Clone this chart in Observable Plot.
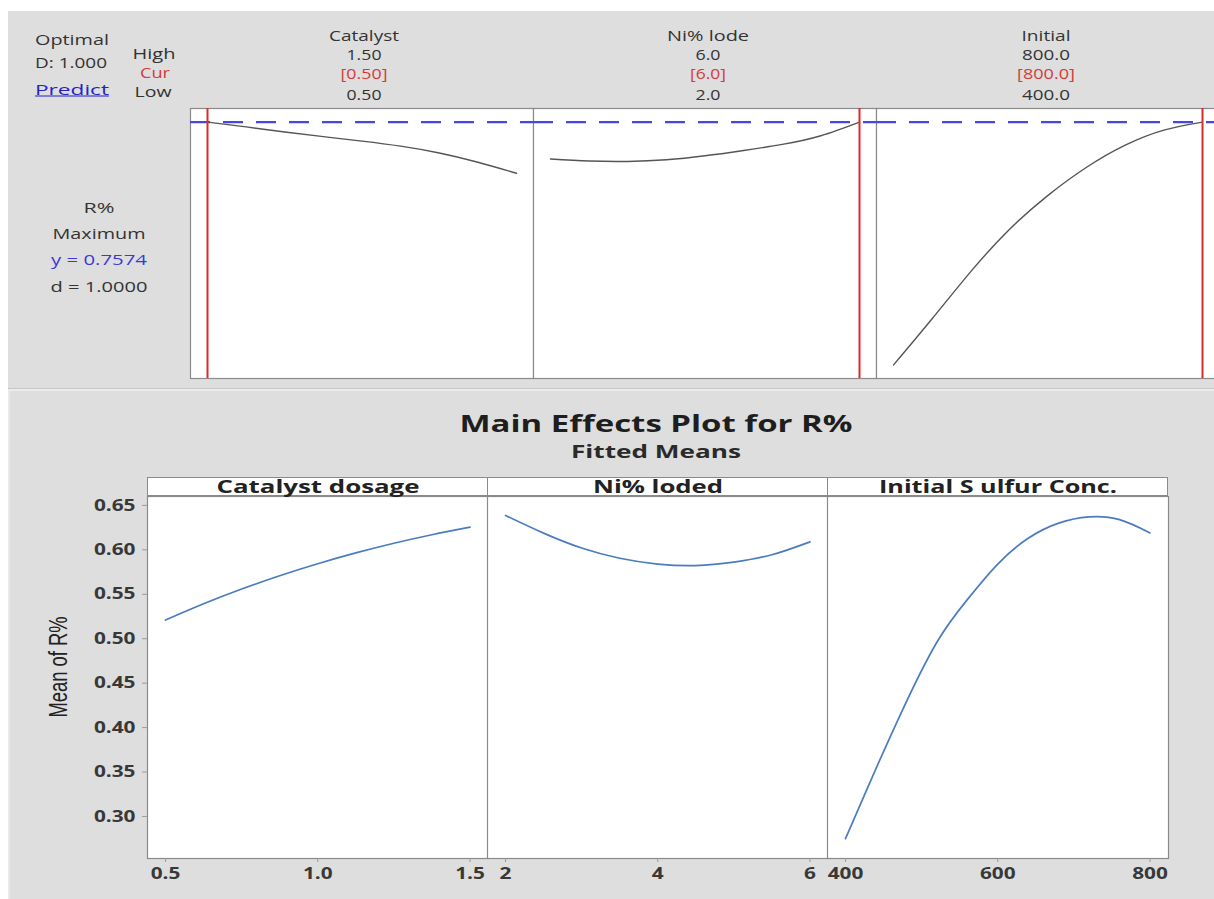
<!DOCTYPE html>
<html>
<head>
<meta charset="utf-8">
<script src="https://cdn.jsdelivr.net/npm/d3@7"></script>
<script src="https://cdn.jsdelivr.net/npm/@observablehq/plot@0.6"></script>
<style>
  html, body { margin: 0; padding: 0; background: #ffffff; }
  #root { position: relative; width: 1214px; height: 899px; overflow: hidden; background: #ffffff; font-family: "Open Sans", sans-serif; color: #333; }
  .abs { position: absolute; }
</style>
</head>
<body>
<div id="root"></div>
<script>
// ---------------- DATA ----------------
// Optimizer (top) header
const topFactors = ["Catalyst", "Ni% lode", "Initial"];
const topHigh = ["1.50", "6.0", "800.0"];
const topCur = ["[0.50]", "[6.0]", "[800.0]"];
const topLow = ["0.50", "2.0", "400.0"];
const curSettings = [0.5, 6, 800];
const lowHigh = [[0.5, 1.5], [2, 6], [400, 800]];
const optimalY = 0.7574;
const leftHeader = ["Optimal", "D: 1.000", "Predict"];
const levelNames = ["High", "Cur", "Low"];
const responseInfo = ["R%", "Maximum", "y = 0.7574", "d = 1.0000"];

// Optimizer response curves (top)
const catTopX = [0.5, 0.625, 0.75, 0.875, 1.0, 1.125, 1.25, 1.375, 1.5];
const catTopY = [0.7574, 0.7502, 0.7426, 0.7356, 0.7289, 0.7214, 0.7112, 0.6974, 0.6809];
const niTopX = [2, 2.5, 3, 3.5, 4, 4.5, 5, 5.5, 6];
const niTopY = [0.7022, 0.6992, 0.6986, 0.7010, 0.7070, 0.7150, 0.7240, 0.7370, 0.7574];
const initTopX = [400, 450, 500, 550, 600, 650, 700, 750, 800];
const initTopY = [0.3944, 0.4634, 0.5339, 0.5969, 0.6479, 0.6899, 0.7229, 0.7454, 0.7574];

// Main effects plot (bottom)
const mainTitle = "Main Effects Plot for R%";
const mainSubtitle = "Fitted Means";
const yLabel = "Mean of R%";
const panelNames = ["Catalyst dosage", "Ni% loded", "Initial S ulfur Conc."];
const catX = [0.5, 0.625, 0.75, 0.875, 1.0, 1.125, 1.25, 1.375, 1.5];
const catY = [0.521, 0.5393, 0.5559, 0.5709, 0.5844, 0.5965, 0.6074, 0.6170, 0.6255];
const niX = [2, 2.5, 3, 3.5, 4, 4.5, 5, 5.5, 6];
const niY = [0.6387, 0.6188, 0.602, 0.5905, 0.584, 0.5823, 0.5862, 0.5945, 0.609];
const initX = [400, 435, 475, 520, 560, 600, 640, 680, 720, 760, 800];
const initY = [0.275, 0.344, 0.420, 0.496, 0.544, 0.584, 0.613, 0.630, 0.637, 0.634, 0.619];
const yTicks = [0.30, 0.35, 0.40, 0.45, 0.50, 0.55, 0.60, 0.65];
const xTicks = [[0.5, 1.0, 1.5], [2, 4, 6], [400, 600, 800]];
const xTickFormats = [d3.format(".1f"), d3.format("d"), d3.format("d")];

// ---------------- LAYOUT ----------------
const root = document.getElementById("root");

function box(left, top, width, height, css) {
  const d = document.createElement("div");
  d.className = "abs";
  d.style.cssText = `left:${left}px;top:${top}px;width:${width}px;height:${height}px;` + (css || "");
  root.appendChild(d);
  return d;
}

// text centred at (cx, cy), stretched horizontally to a target width
function addText(txt, cx, cy, targetW, css, rotate) {
  const el = document.createElement("div");
  el.className = "abs";
  el.textContent = txt;
  el.style.cssText = `left:${cx}px;top:${cy}px;white-space:nowrap;line-height:1;` + (css || "");
  root.appendChild(el);
  const natural = el.getBoundingClientRect().width;
  const s = targetW ? targetW / natural : 1;
  el.style.transform = `translate(-50%,-50%)${rotate ? " rotate(" + rotate + "deg)" : ""} scaleX(${s})`;
  return el;
}

function place(svg, left, top, width) {
  const d = document.createElement("div");
  d.className = "abs";
  d.style.cssText = `left:${left}px;top:${top}px;width:${width}px;`;
  d.appendChild(svg);
  root.appendChild(d);
  return svg;
}

function stretchTicks(svg, f) {
  svg.querySelectorAll('g[aria-label$="tick label"] text').forEach(t => {
    const w = t.getComputedTextLength();
    t.setAttribute("textLength", (w * f).toFixed(2));
    t.setAttribute("lengthAdjust", "spacingAndGlyphs");
  });
}

// backgrounds
box(8, 11, 1206, 377, "background:#dedede;border-bottom:1px solid #c6c6c6;");
box(8, 389, 1206, 510, "background:#dedede;border-top:2px solid #ececec;border-left:2px solid #e9e9e9;box-sizing:border-box;");

// ---------------- TOP: optimizer ----------------
const topCurves = [[catTopX, catTopY], [niTopX, niTopY], [initTopX, initTopY]];
const topLefts = [190, 533, 876];
const topW = 343, topH = 270;
topCurves.forEach(([xs, ys], i) => {
  const data = xs.map((x, j) => ({x, y: ys[j]}));
  const svg = Plot.plot({
    width: topW, height: topH,
    marginTop: 0, marginBottom: 0, marginLeft: 0, marginRight: 0,
    x: {domain: lowHigh[i], range: [17, 326], axis: null},
    y: {domain: [0.3742, 0.7777], axis: null},
    style: {background: "transparent", maxWidth: "none", overflow: "visible"},
    marks: [
      Plot.frame({fill: "white", stroke: "#8a8a8a", strokeWidth: 1.2}),
      Plot.ruleY([optimalY], {stroke: "#4646e0", strokeWidth: 2.4, strokeDasharray: "20,13"}),
      Plot.line(data, {x: "x", y: "y", stroke: "#555555", strokeWidth: 1.4, curve: "natural"}),
      Plot.ruleX([curSettings[i]], {stroke: "#e02a2a", strokeWidth: 2})
    ]
  });
  place(svg, topLefts[i], 108, topW);
});

// top header text
const hdrCss = "font-size:15px;color:#333;";
addText(leftHeader[0], 72, 39, 74, hdrCss);
addText(leftHeader[1], 71, 62, 72, hdrCss);
addText(leftHeader[2], 72, 89, 74, hdrCss + "color:#2323c8;text-decoration:underline;");
addText(levelNames[0], 154, 53, 43, hdrCss);
addText(levelNames[1], 155, 72, 30, hdrCss + "color:#d83a3a;");
addText(levelNames[2], 153, 91, 37, hdrCss);

const colCx = [364, 708, 1046];
const factorW = [70, 82, 49];
const highW = [35, 25, 48];
const curW = [47, 36, 58];
topFactors.forEach((f, i) => {
  addText(f, colCx[i], 35, factorW[i], hdrCss);
  addText(topHigh[i], colCx[i], 54, highW[i], hdrCss);
  addText(topCur[i], colCx[i], 73, curW[i], hdrCss + "color:#d83a3a;");
  addText(topLow[i], colCx[i], 94, highW[i], hdrCss);
});

const respY = [207, 233, 259, 286];
const respW = [31, 93, 96, 97];
responseInfo.forEach((t, i) => {
  addText(t, 99, respY[i], respW[i], hdrCss + (i === 2 ? "color:#3a3ad8;" : ""));
});

// ---------------- BOTTOM: main effects ----------------
addText(mainTitle, 656, 423, 393, "font-size:24px;font-weight:700;color:#1e1e1e;");
addText(mainSubtitle, 656, 451, 170, "font-size:17px;font-weight:700;color:#2a2a2a;");
addText(yLabel, 58, 667, 101, "font-family:'Liberation Sans Narrow','Liberation Sans',sans-serif;font-size:26px;color:#222;", -90);

const bottomCurves = [[catX, catY], [niX, niY], [initX, initY]];
const panelLefts = [147, 487, 827];
const panelW = 341;
const stripW = [203, 130, 238];
const plotTop = 496, plotH = 362, marginB = 41;

bottomCurves.forEach(([xs, ys], i) => {
  const data = xs.map((x, j) => ({x, y: ys[j]}));
  const ml = i === 0 ? 147 : 0;
  const left = i === 0 ? 0 : panelLefts[i];
  const svg = Plot.plot({
    width: ml + panelW, height: plotH + marginB,
    marginTop: 0, marginBottom: marginB, marginLeft: ml, marginRight: 0,
    x: {domain: [xTicks[i][0], xTicks[i][2]], range: [ml + 18, ml + 322.5]},
    y: {domain: [0.2527, 0.660], axis: i === 0 ? undefined : null},
    style: {background: "transparent", maxWidth: "none", overflow: "visible",
            fontFamily: "'Open Sans', sans-serif", fontWeight: 700, fontSize: "16px", color: "#383838"},
    marks: [
      Plot.frame({fill: "white", stroke: "#8a8a8a", strokeWidth: 1.2}),
      Plot.axisX({ticks: xTicks[i], tickFormat: xTickFormats[i], tickSize: 4, tickPadding: 5, stroke: "#9a9a9a", label: null}),
      i === 0
        ? Plot.axisY({ticks: yTicks, tickFormat: d3.format(".2f"), tickSize: 5, tickPadding: 7, stroke: "#9a9a9a", label: null})
        : null,
      Plot.line(data, {x: "x", y: "y", stroke: "#4a7cc0", strokeWidth: 1.7, curve: "natural"})
    ]
  });
  place(svg, left, plotTop, ml + panelW);
  stretchTicks(svg, 1.3);
  // strip header
  box(panelLefts[i], 477, panelW, 19, "background:white;border:1.2px solid #8a8a8a;box-sizing:border-box;");
  addText(panelNames[i], panelLefts[i] + panelW / 2, 486, stripW[i], "font-size:18px;font-weight:700;color:#222;");
});
</script>
</body>
</html>
